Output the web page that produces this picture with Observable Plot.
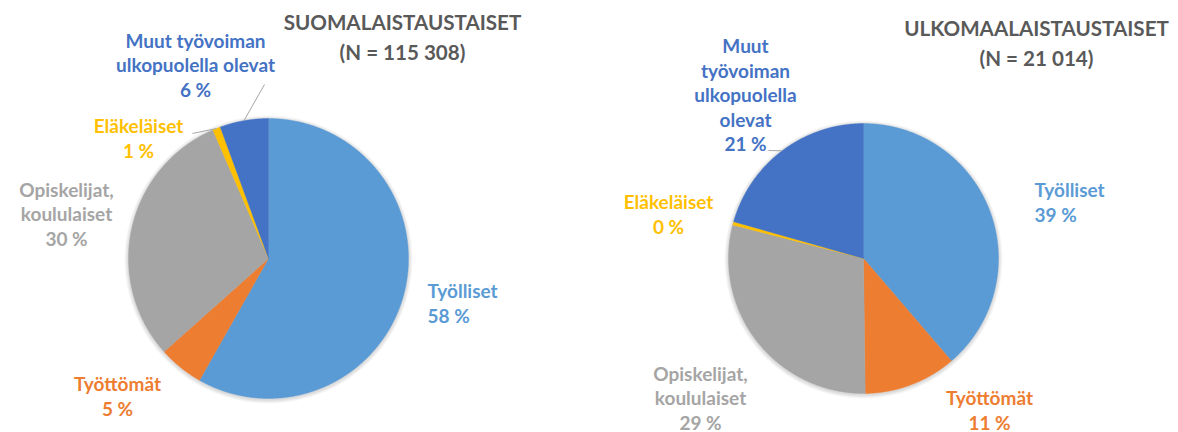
<!DOCTYPE html>
<html><head><meta charset="utf-8">
<script src="https://cdn.jsdelivr.net/npm/d3@7"></script>
<script src="https://cdn.jsdelivr.net/npm/@observablehq/plot@0.6"></script>
<style>body{margin:0;background:#fff;}</style>
</head><body><div id="chart"></div>
<script>
// ---- data ----
const categories = ["Työlliset", "Työttömät", "Opiskelijat, koululaiset", "Eläkeläiset", "Muut työvoiman ulkopuolella olevat"];
const colors = ["#5B9BD5", "#ED7D31", "#A5A5A5", "#FFC000", "#4472C4"];
const groups = ["SUOMALAISTAUSTAISET", "ULKOMAALAISTAUSTAISET"];
const groupN = ["115 308", "21 014"];
const suomiValues = [58.2, 5.2, 30.1, 0.9, 5.6];
const ulkoValues = [38.7, 11.1, 29.2, 0.4, 20.6];
// label text lines (as broken in the original)
const suomiLabelNames = ["Työlliset", "Työttömät", "Opiskelijat,\nkoululaiset", "Eläkeläiset", "Muut työvoiman\nulkopuolella olevat"];
const ulkoLabelNames = ["Työlliset", "Työttömät", "Opiskelijat,\nkoululaiset", "Eläkeläiset", "Muut\ntyövoiman\nulkopuolella\nolevat"];

// ---- layout ----
const W = 1178, H = 432;
const pieLayout = [{cx: 268, cy: 258, r: 140}, {cx: 863, cy: 258, r: 135}];
const titleLayout = [{x: 402, y: 35}, {x: 1036, y: 41}];
// label block positions (pixel layout) and anchors
const labelLayout = [
  [{x: 427, y: 302, a: "start"}, {x: 117, y: 395, a: "middle"}, {x: 66, y: 213, a: "middle"}, {x: 138, y: 137, a: "middle"}, {x: 195, y: 64, a: "middle"}],
  [{x: 1034, y: 201, a: "start"}, {x: 989, y: 409, a: "middle"}, {x: 700, y: 397, a: "middle"}, {x: 668, y: 213, a: "middle"}, {x: 745, y: 94, a: "middle"}]
];
// leader lines: [chart, category index, start x, start y]
const leaderLayout = [[0, 4, 264, 84], [0, 3, 192, 133], [1, 4, 768, 150]];

const seriesValues = [suomiValues, ulkoValues];
const seriesNames = [suomiLabelNames, ulkoLabelNames];
const pie = d3.pie().sort(null).value(d => d);

const slicePts = [];
const arcsByChart = seriesValues.map((vals, ci) => {
  const arcs = pie(vals);
  const {cx, cy, r} = pieLayout[ci];
  arcs.forEach((a, i) => {
    const key = ci + "-" + i;
    slicePts.push({key, cat: categories[i], x: cx, y: cy});
    const n = Math.max(2, Math.ceil((a.endAngle - a.startAngle) / 0.005));
    for (let k = 0; k <= n; k++) {
      const t = a.startAngle + (a.endAngle - a.startAngle) * k / n;
      slicePts.push({key, cat: categories[i], x: cx + r * Math.sin(t), y: cy - r * Math.cos(t)});
    }
    slicePts.push({key, cat: categories[i], x: cx, y: cy});
  });
  return arcs;
});

const labels = [];
seriesValues.forEach((vals, ci) => {
  vals.forEach((v, i) => {
    const L = labelLayout[ci][i];
    labels.push({cat: categories[i], x: L.x, y: L.y, a: L.a, text: seriesNames[ci][i] + "\n" + Math.round(v) + " %"});
  });
});

const leaders = leaderLayout.map(([ci, i, x1, y1]) => {
  const a = arcsByChart[ci][i];
  const m = (a.startAngle + a.endAngle) / 2;
  const {cx, cy, r} = pieLayout[ci];
  return {x1, y1, x2: cx + r * Math.sin(m), y2: cy - r * Math.cos(m)};
});

const titles = groups.map((g, i) => ({x: titleLayout[i].x, y: titleLayout[i].y, text: g + "\n(N = " + groupN[i] + ")"}));

// soft shadow rings under each pie
const shadowRings = [];
pieLayout.forEach(p => [1, 2, 3, 4].forEach(k => shadowRings.push({x: p.cx, y: p.cy + 1, k, rr: p.r + k})));

const font = "Lato, 'Open Sans', sans-serif";
const plot = Plot.plot({
  width: W, height: H,
  margin: 0,
  x: {domain: [0, W], range: [0, W], axis: null},
  y: {domain: [0, H], range: [0, H], axis: null},
  r: {type: "identity"},
  color: {domain: categories, range: colors},
  style: {fontFamily: font, background: "#fff", overflow: "visible"},
  marks: [
    Plot.dot(shadowRings, {x: "x", y: "y", r: "rr", fill: "#000", fillOpacity: 0.035, stroke: null}),
    Plot.line(slicePts, {x: "x", y: "y", z: "key", fill: "cat", stroke: "cat", strokeWidth: 0.4, curve: "linear"}),
    Plot.link(leaders, {x1: "x1", y1: "y1", x2: "x2", y2: "y2", stroke: "#A6A6A6", strokeWidth: 1}),
    Plot.text(labels.filter(d => d.a === "middle"), {x: "x", y: "y", text: "text", fill: "cat", fontSize: 19, fontWeight: "bold", textAnchor: "middle", lineHeight: 1.29}),
    Plot.text(labels.filter(d => d.a === "start"), {x: "x", y: "y", text: "text", fill: "cat", fontSize: 19, fontWeight: "bold", textAnchor: "start", lineHeight: 1.29}),
    Plot.text(titles, {x: "x", y: "y", text: "text", fill: "#595959", fontSize: 20.6, fontWeight: "bold", textAnchor: "middle", lineHeight: 1.43})
  ]
});
document.getElementById("chart").appendChild(plot);
</script>
</body></html>
